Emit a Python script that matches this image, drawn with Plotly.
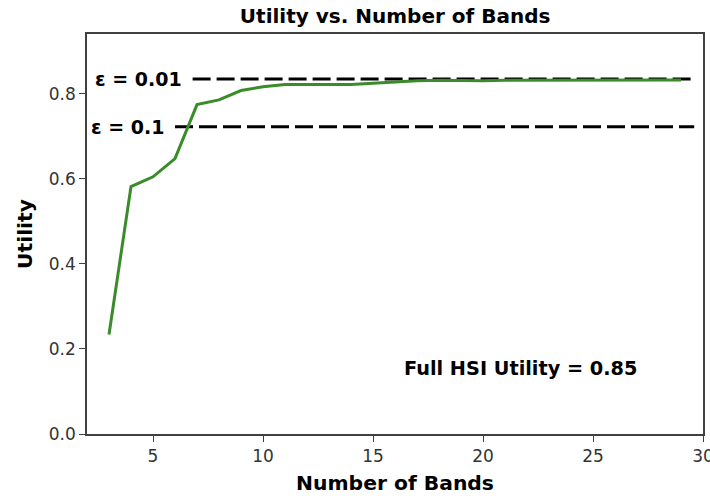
import plotly.graph_objects as go

# Utility of the selected band subset as the number of bands grows
num_bands = list(range(3, 30))
utility = [0.234, 0.582, 0.605, 0.648, 0.775, 0.786, 0.808, 0.817, 0.822,
           0.822, 0.822, 0.822, 0.825, 0.828, 0.831, 0.832, 0.831, 0.831,
           0.832, 0.832, 0.832, 0.833, 0.833, 0.833, 0.833, 0.832, 0.833]

# Tolerance thresholds drawn as dashed reference lines
eps_labels = ["ε = 0.01", "ε = 0.1"]
eps_levels = [0.835, 0.723]
eps_x_start = [6.8, 6.0]
eps_x_end = [29.45, 29.6]

full_utility_text = "Full HSI Utility = 0.85"

x_ticks = [5, 10, 15, 20, 25, 30]
y_ticks = [0.0, 0.2, 0.4, 0.6, 0.8]

BOLD = "DejaVu Sans, sans-serif"
TICK = "DejaVu Sans, sans-serif"

fig = go.Figure()

for lvl, x0, x1 in zip(eps_levels, eps_x_start, eps_x_end):
    fig.add_trace(go.Scatter(
        x=[x0, x1], y=[lvl, lvl], mode="lines",
        line=dict(color="black", width=3, dash="18px,6px"),
        hoverinfo="skip", showlegend=False,
    ))

fig.add_trace(go.Scatter(
    x=num_bands, y=utility, mode="lines",
    line=dict(color="#3a8c2b", width=3),
    showlegend=False,
))

for label, lvl, x0 in zip(eps_labels, eps_levels, eps_x_start):
    fig.add_annotation(
        x=x0, y=lvl, xref="x", yref="y", text=f"<b>{label}</b>",
        showarrow=False, xanchor="right", yanchor="middle", xshift=-9,
        font=dict(family=BOLD, size=19, color="black"),
    )

fig.add_annotation(
    x=16.3, y=0.155, xref="x", yref="y", text=f"<b>{full_utility_text}</b>",
    showarrow=False, xanchor="left", yanchor="middle",
    font=dict(family=BOLD, size=19.3, color="black"),
)

axis_common = dict(
    showgrid=False, zeroline=False, showline=True, mirror=True,
    linecolor="#404040", linewidth=1.5, automargin=False,
    ticks="outside", ticklen=6, tickwidth=1.2, tickcolor="#404040",
    ticklabeloverflow="allow",
    tickfont=dict(family=TICK, size=17, color="#333333"),
)

fig.update_xaxes(
    range=[2, 30], tickvals=x_ticks,
    title=dict(text="<b>Number of Bands</b>",
               font=dict(family=BOLD, size=20.3, color="black"), standoff=11),
    **axis_common,
)
fig.update_yaxes(
    range=[0, 0.941], tickvals=y_ticks, tickformat=".1f",
    title=dict(text="<b>Utility</b>",
               font=dict(family=BOLD, size=20.3, color="black"), standoff=11),
    **axis_common,
)

fig.update_layout(
    width=710, height=501,
    margin=dict(l=87, r=7, t=34, b=67),
    paper_bgcolor="white", plot_bgcolor="white",
    title=dict(text="<b>Utility vs. Number of Bands</b>", x=0.5565, xanchor="center",
               y=0.968, yanchor="middle",
               font=dict(family=BOLD, size=20, color="black")),
)

fig.write_html("out.html")
